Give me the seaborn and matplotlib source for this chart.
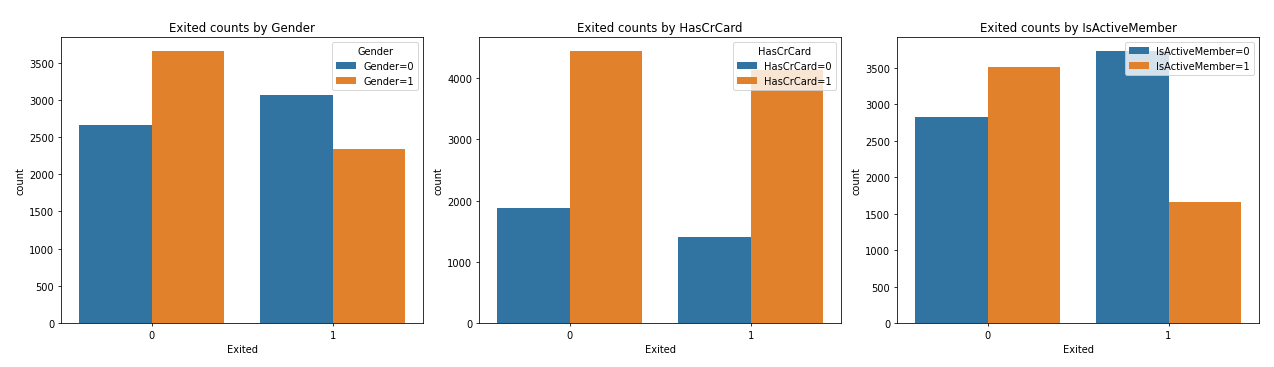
import matplotlib
matplotlib.use("Agg")
import matplotlib.pyplot as plt
import seaborn as sns
import pandas as pd

exited = ["0", "1"]

gender_0 = [2666, 3070]
gender_1 = [3661, 2335]

hascrcard_0 = [1875, 1400]
hascrcard_1 = [4452, 4142]

active_0 = [2827, 3737]
active_1 = [3513, 1661]

panels = [
    ("Gender", gender_0, gender_1, True),
    ("HasCrCard", hascrcard_0, hascrcard_1, True),
    ("IsActiveMember", active_0, active_1, False),
]

fig, axes = plt.subplots(1, 3, figsize=(18, 5.195), dpi=70.83)
fig.subplots_adjust(left=0.048, right=0.9875, top=0.897, bottom=0.1196, wspace=0.155)

for ax, (name, v0, v1, show_title) in zip(axes, panels):
    df = pd.DataFrame({
        "Exited": exited + exited,
        "count": v0 + v1,
        name: [f"{name}=0"] * 2 + [f"{name}=1"] * 2,
    })
    sns.barplot(data=df, x="Exited", y="count", hue=name, ax=ax,
                palette=["#1f77b4", "#ff7f0e"], saturation=0.75)
    ax.set_title(f"Exited counts by {name}")
    ax.set_xlabel("Exited")
    ax.set_ylabel("count")
    leg = ax.legend(loc="upper right", title=name if show_title else None)

fig.savefig("out.png", dpi=70.83)
